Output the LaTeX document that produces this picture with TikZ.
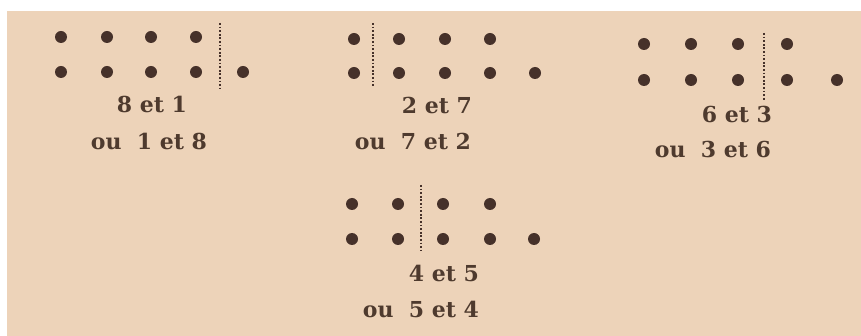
\documentclass[tikz,border=0pt]{standalone}
\usepackage{fontspec}
\setmainfont{DejaVu Serif}
\usepackage{xcolor}
\definecolor{paper}{HTML}{EDD3B9}
\definecolor{ink}{HTML}{46312A}
\definecolor{textc}{HTML}{4E3A2E}
\usepackage{tikz}
\usetikzlibrary{positioning}

\begin{document}
\begin{tikzpicture}[x=1pt,y=-1pt,every node/.style={font=\fontsize{22}{26}\selectfont\bfseries}]
\tikzstyle{dot}=[circle,fill=ink,inner sep=0pt,minimum size=12pt]
\tikzstyle{cut}=[ink,line width=2.3pt,dash pattern=on 1.8pt off 1.8pt]
\tikzstyle{sum}=[anchor=base,inner sep=0pt,text=textc]
\fill[white] (0,0) rectangle (861,336);
\fill[paper] (7,11) rectangle (861,336);
% 8 et 1
\foreach \x [count=\i] in {61,107,151,196} \node[dot] (a\i) at (\x,37) {};
\foreach \x [count=\i] in {61,107,151,196,243} \node[dot] (b\i) at (\x,72) {};
\coordinate (cutA1) at (220,23);
\coordinate (cutA2) at (220,88);
\draw[cut] (cutA1)--(cutA2);
\node[sum] (sumA) at (152,113) {8 et 1};
\node[sum] (orA) at (149,150) {ou~ 1 et 8};
% 2 et 7
\foreach \x [count=\i] in {354,399,445,490} \node[dot] (c\i) at (\x,39) {};
\foreach \x [count=\i] in {354,399,445,490,535} \node[dot] (d\i) at (\x,73) {};
\coordinate (cutB1) at (373,23);
\coordinate (cutB2) at (373,87);
\draw[cut] (cutB1)--(cutB2);
\node[sum] (sumB) at (437,114) {2 et 7};
\node[sum] (orB) at (413,150) {ou~ 7 et 2};
% 6 et 3
\foreach \x [count=\i] in {644,691,738,787} \node[dot] (e\i) at (\x,44) {};
\foreach \x [count=\i] in {644,691,738,787,837} \node[dot] (f\i) at (\x,80) {};
\coordinate (cutC1) at (764,33);
\coordinate (cutC2) at (764,100);
\draw[cut] (cutC1)--(cutC2);
\node[sum] (sumC) at (737,123) {6 et 3};
\node[sum] (orC) at (713,158) {ou~ 3 et 6};
% 4 et 5
\foreach \x [count=\i] in {352,398,443,490} \node[dot] (g\i) at (\x,204) {};
\foreach \x [count=\i] in {352,398,443,490,534} \node[dot] (h\i) at (\x,239) {};
\coordinate (cutD1) at (421,185);
\coordinate (cutD2) at (421,250);
\draw[cut] (cutD1)--(cutD2);
\node[sum] (sumD) at (444,282) {4 et 5};
\node[sum] (orD) at (421,317) {ou~ 5 et 4};
\end{tikzpicture}
\end{document}
